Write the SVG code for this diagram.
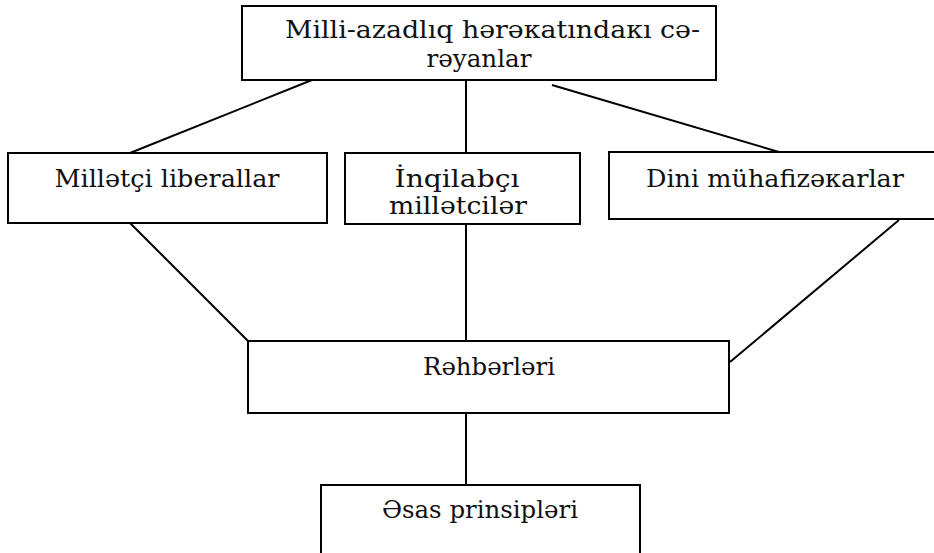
<svg xmlns="http://www.w3.org/2000/svg" width="934" height="553" viewBox="0 0 934 553">
<style>
.box{fill:#fff;stroke:#000;stroke-width:2}
.t{font-family:"DejaVu Serif","Liberation Serif",serif;font-size:24px;fill:#111;text-anchor:middle}
.c line{stroke:#000;stroke-width:2}
</style>
<rect width="934" height="553" fill="#fff"/>
<g class="c" id="connectors">
<line x1="312" y1="80" x2="130" y2="153"/>
<line x1="466" y1="80" x2="466" y2="153"/>
<line x1="552" y1="85" x2="779" y2="152"/>
<line x1="130" y1="223" x2="248" y2="341"/>
<line x1="466" y1="224" x2="466" y2="341"/>
<line x1="899" y1="220" x2="730" y2="362"/>
<line x1="466" y1="413" x2="466" y2="485"/>
</g>
<g id="n_top">
<rect class="box" x="242" y="6" width="474" height="74"/>
<text class="t" x="492.5" y="38" textLength="415" lengthAdjust="spacingAndGlyphs">Milli-azadlıq hərəкatındaкı cə-</text>
<text class="t" x="479" y="67" textLength="105" lengthAdjust="spacingAndGlyphs">rəyanlar</text>
</g>
<g id="n_liberal">
<rect class="box" x="8" y="153" width="319" height="70"/>
<text class="t" x="167" y="187" textLength="225" lengthAdjust="spacingAndGlyphs">Millətçi liberallar</text>
</g>
<g id="n_inqilab">
<rect class="box" x="345" y="153" width="235" height="71"/>
<text class="t" x="457" y="187" textLength="125" lengthAdjust="spacingAndGlyphs">İnqilabçı</text>
<text class="t" x="458" y="214" textLength="138" lengthAdjust="spacingAndGlyphs">millətcilər</text>
</g>
<g id="n_dini">
<rect class="box" x="609" y="152" width="335" height="67"/>
<text class="t" x="775" y="187" textLength="258" lengthAdjust="spacingAndGlyphs">Dini mühafizəкarlar</text>
</g>
<g id="n_rehber">
<rect class="box" x="248" y="341" width="481" height="72"/>
<text class="t" x="489" y="375" textLength="132" lengthAdjust="spacingAndGlyphs">Rəhbərləri</text>
</g>
<g id="n_esas">
<path class="box" d="M321,560 V485 H640 V560"/>
<text class="t" x="480" y="518" textLength="196" lengthAdjust="spacingAndGlyphs">Əsas prinsipləri</text>
</g>
</svg>
